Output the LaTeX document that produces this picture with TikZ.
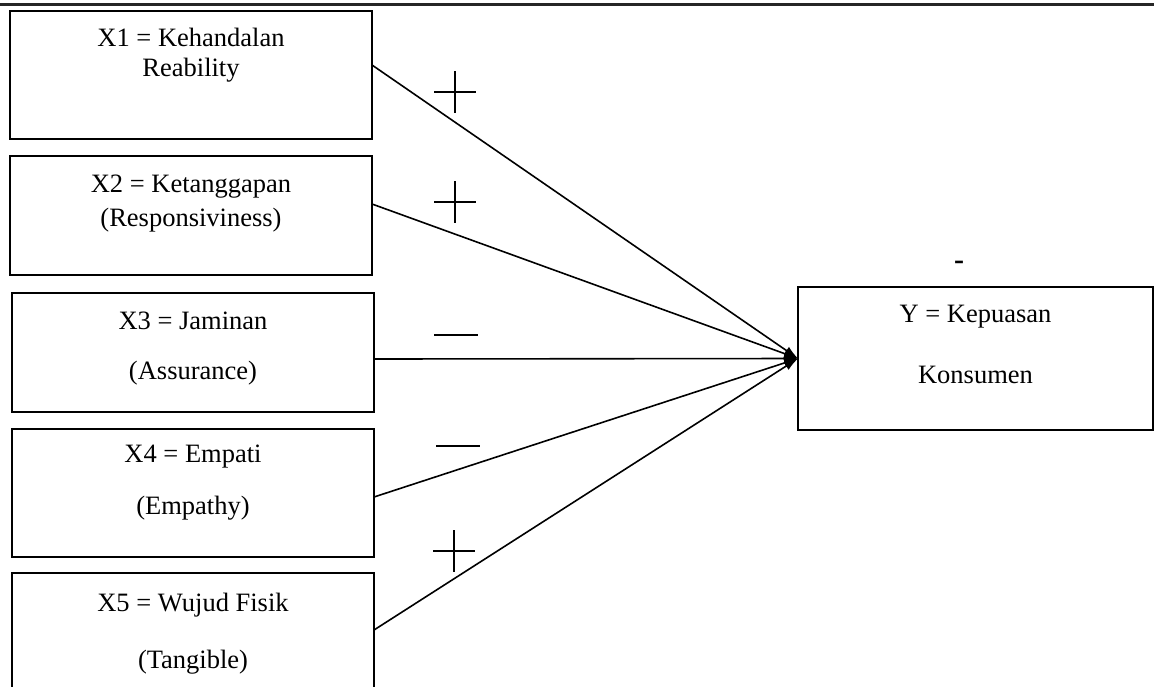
\documentclass[tikz,border=0pt]{standalone}
\usepackage{fontspec}
\setmainfont{Liberation Serif}
\usetikzlibrary{positioning,arrows.meta}

\tikzset{
	varbox/.style={draw,line width=1.8pt,minimum width=362pt,inner sep=0pt,outer sep=0pt},
	boxtext/.style={align=center,inner sep=0pt,font=\fontsize{26.5}{30}\selectfont},
	link/.style={->,line width=1.6pt},
	signline/.style={line width=1.3pt},
	plussign/.pic={\draw[signline] (-21,0) -- (21,0) (0,-21) -- (0,21);},
	minussign/.pic={\draw[signline] (-22,0) -- (22,0);}
}

\begin{document}
\begin{tikzpicture}[x=1pt,y=-1pt,>={Latex[length=14pt,width=9pt]}]
	\useasboundingbox (0,0) rectangle (1154,686);

	% page rule at the top
	\draw[line width=3.5pt,black!85] (0,4.5) -- (1154,4.5);

	% independent variables X1 ... X5
	\node[varbox,minimum height=128pt] (x1) at (191,75) {};
	\node[varbox,minimum height=119pt] (x2) at (191,215.5) {};
	\node[varbox,minimum height=119pt] (x3) at (193,352.5) {};
	\node[varbox,minimum height=128pt] (x4) at (193,493) {};
	\node[varbox,minimum height=128pt] (x5) at (193,637) {};

	\node[boxtext,below=17pt of x1.north] (x1t) {X1 = Kehandalan\\Reability};
	\node[boxtext,below=19pt of x2.north] (x2t) {X2 = Ketanggapan\\[4pt](Responsiviness)};
	\node[boxtext,below=19pt of x3.north] (x3t) {X3 = Jaminan\\[20pt](Assurance)};
	\node[boxtext,below=16pt of x4.north] (x4t) {X4 = Empati\\[22pt](Empathy)};
	\node[boxtext,below=20pt of x5.north] (x5t) {X5 = Wujud Fisik\\[27pt](Tangible)};

	% dependent variable Y
	\node[varbox,minimum width=355pt,minimum height=143pt] (ybox) at (975.5,358.5) {};
	\node[boxtext,below=18pt of ybox.north] (yt) {Y = Kepuasan\\[31pt]Konsumen};
	\node[boxtext,font=\bfseries\fontsize{30}{30}\selectfont] (ymark) at (959,265) {-};

	% paths to Y
	\draw[link] ([yshift=10pt]x1.east) -- (ybox.west);
	\draw[link] ([yshift=11.5pt]x2.east) -- (ybox.west);
	\draw[link] ([yshift=-6.5pt]x3.east) -- (ybox.west);
	\draw[link] ([yshift=-4pt]x4.east) -- (ybox.west);
	\draw[link] ([yshift=7pt]x5.east) -- (ybox.west);

	% signs of the paths
	\pic at (455,92) {plussign};
	\pic at (455,202) {plussign};
	\pic at (456,335) {minussign};
	\pic at (458,446) {minussign};
	\pic at (454,551) {plussign};
\end{tikzpicture}
\end{document}
